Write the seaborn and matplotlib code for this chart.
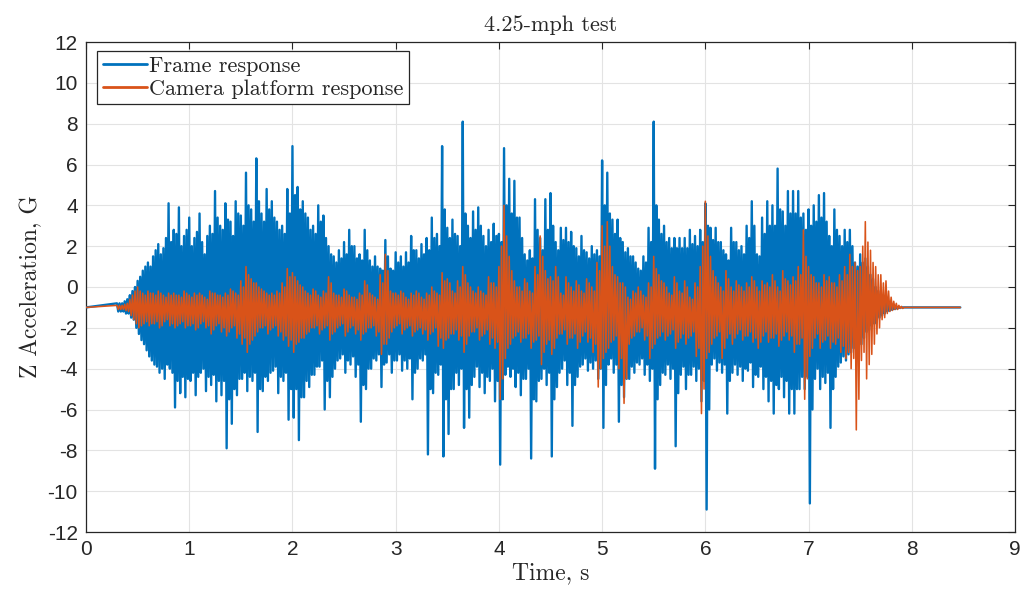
import numpy as np
import pandas as pd
import matplotlib
matplotlib.use("Agg")
import matplotlib.pyplot as plt
import seaborn as sns

# ---------------- data ----------------
rest_value = -1.0          # quiet level before/after the test, G
t_first, t_last = 0.0, 8.47
t_grid_start, t_grid_step = 0.30, 0.05   # sampling grid of read peaks

# main peaks / troughs at t_grid_start + k*step
frame_upper = [
    -0.8, -0.8, -0.6, -0.2, 0.3, 0.8, 1.2, 1.5, 2.1, 1.9,
    4.1, 2.8, 3.9, 2.5, 3.4, 2.4, 3.6, 1.6, 3.0, 4.7,
    3.0, 4.1, 3.2, 4.2, 3.5, 5.6, 3.8, 6.3, 3.6, 4.8,
    4.2, 3.2, 3.0, 4.8, 6.9, 4.9, 4.2, 3.4, 3.0, 4.0,
    3.5, 2.0, 1.5, 1.8, 2.2, 2.8, 2.0, 1.6, 2.8, 1.3,
    1.5, 0.9, 2.3, 0.9, 1.7, 1.5, 1.7, 2.5, 1.8, 2.1,
    2.4, 3.4, 2.6, 6.9, 2.9, 3.3, 2.5, 8.1, 3.0, 3.7,
    3.9, 2.5, 2.8, 3.1, 2.6, 6.8, 5.3, 5.2, 3.4, 1.6,
    1.8, 4.3, 2.4, 4.3, 4.6, 2.2, 2.9, 2.9, 2.7, 1.9,
    2.5, 1.7, 2.0, 1.8, 6.2, 5.6, 3.3, 3.3, 2.2, 1.9,
    1.5, 0.9, 1.5, 2.9, 8.1, 3.3, 3.0, 2.4, 2.4, 2.4,
    2.4, 2.8, 2.5, 2.8, 4.1, 2.9, 2.9, 2.2, 1.6, 2.9,
    2.2, 2.0, 3.0, 4.2, 1.6, 3.4, 4.2, 4.0, 5.8, 3.7,
    4.7, 4.7, 4.7, 3.6, 3.8, 4.0, 4.5, 4.6, 2.5, 3.8,
    2.5, 2.8, 2.8, 1.2, 1.6, 1.4, 0.6, 0.0, -0.4, -0.7,
    -0.9, -0.95, -1.0,
]
frame_lower = [
    -1.2, -1.2, -1.3, -1.6, -2.3, -2.8, -3.4, -3.8, -4.2, -4.5,
    -4.0, -5.9, -5.2, -5.4, -4.6, -5.3, -4.2, -5.1, -4.8, -5.6,
    -5.3, -7.9, -6.7, -5.3, -4.5, -5.1, -4.6, -7.1, -5.1, -4.6,
    -4.1, -5.2, -4.6, -6.5, -6.4, -7.5, -5.4, -4.9, -4.3, -3.9,
    -6.0, -5.4, -4.0, -3.5, -4.2, -3.8, -4.4, -6.6, -5.0, -4.0,
    -3.6, -4.9, -3.7, -4.2, -3.6, -4.1, -4.0, -5.5, -4.0, -3.6,
    -8.2, -5.2, -4.3, -8.3, -7.2, -5.0, -4.8, -6.9, -6.4, -4.4,
    -4.9, -5.2, -4.6, -5.6, -8.7, -4.3, -4.4, -4.9, -5.3, -4.5,
    -8.4, -5.6, -4.5, -4.8, -8.3, -4.9, -4.0, -4.8, -6.8, -4.4,
    -3.8, -4.1, -4.0, -4.5, -6.9, -3.8, -4.2, -6.6, -5.4, -4.5,
    -4.2, -3.8, -4.3, -4.6, -8.9, -4.8, -4.3, -4.5, -7.8, -4.3,
    -5.0, -4.3, -4.6, -5.6, -10.9, -3.8, -4.1, -4.2, -6.2, -4.2,
    -4.3, -4.6, -4.1, -4.9, -4.4, -5.0, -5.6, -6.2, -5.0, -5.4,
    -6.2, -6.2, -5.0, -5.0, -10.6, -4.5, -5.0, -4.7, -6.9, -4.4,
    -3.7, -3.6, -3.2, -3.0, -2.8, -2.2, -1.9, -1.6, -1.4, -1.2,
    -1.1, -1.05, -1.0,
]
# in-between (smaller) peaks / troughs at t_grid_start + (k + 1/2)*step
frame_upper_mid = [
    -0.8, -0.7, -0.4, 0.0,
    0.5, 1.0, 1.0, 1.8, 1.6, 2.4, 2.2, 2.6, 2.0, 2.8,
    2.0, 2.7, 2.2, 2.5, 2.6, 3.4, 2.8, 3.3, 2.5, 3.6,
    3.0, 4.0, 3.2, 4.2, 3.2, 3.8, 3.4, 2.8, 2.6, 3.6,
    4.5, 3.8, 3.6, 2.8, 2.6, 3.2, 2.4, 1.6, 1.2, 1.4,
    1.6, 2.0, 1.4, 1.3, 1.8, 1.0, 1.0, 0.8, 1.5, 0.8,
    1.2, 1.0, 1.2, 1.8, 1.4, 1.6, 1.8, 2.4, 2.0, 3.8,
    2.4, 2.6, 2.0, 3.6, 2.4, 2.8, 3.0, 2.0, 2.2, 2.5,
    2.2, 4.0, 3.6, 3.4, 2.4, 1.3, 1.4, 2.8, 1.8, 2.8,
    3.0, 1.8, 2.3, 2.2, 2.0, 1.5, 1.8, 1.4, 1.6, 1.5,
    4.0, 3.6, 2.6, 2.4, 1.7, 1.5, 1.2, 0.8, 1.2, 2.2,
    4.0, 2.6, 2.2, 1.9, 1.9, 1.9, 1.9, 2.1, 2.0, 2.2,
    3.0, 2.3, 2.2, 1.8, 1.3, 2.2, 1.8, 1.6, 2.4, 3.0,
    1.5, 2.6, 3.0, 3.0, 3.8, 3.0, 3.6, 3.6, 3.4, 2.8,
    3.0, 3.2, 3.4, 3.2, 2.0, 2.8, 2.0, 2.2, 2.0, 1.0,
    1.2, 1.0, 0.4, -0.2, -0.5, -0.8, -0.9, -1.0, -1.0,
]
frame_lower_mid = [
    -1.2, -1.3, -1.5, -2.0,
    -2.6, -3.1, -3.6, -3.9, -4.0, -3.8, -4.2, -4.6, -4.4, -4.5,
    -4.2, -4.4, -4.0, -4.4, -4.3, -4.6, -4.6, -5.5, -5.0, -4.5,
    -4.2, -4.4, -4.2, -5.0, -4.4, -4.2, -3.9, -4.4, -4.2, -5.0,
    -5.0, -5.4, -4.6, -4.3, -3.9, -3.6, -4.6, -4.4, -3.6, -3.3,
    -3.6, -3.4, -3.8, -4.8, -4.0, -3.5, -3.3, -3.8, -3.3, -3.6,
    -3.3, -3.6, -3.5, -4.2, -3.5, -3.3, -5.0, -4.2, -3.8, -5.5,
    -5.0, -4.2, -4.0, -5.0, -4.8, -3.9, -4.2, -4.4, -4.0, -4.6,
    -5.5, -3.9, -4.0, -4.2, -4.5, -4.0, -5.5, -4.6, -4.0, -4.2,
    -5.5, -4.2, -3.6, -4.2, -4.8, -3.9, -3.5, -3.7, -3.6, -4.0,
    -4.8, -3.5, -3.8, -4.8, -4.5, -3.9, -3.7, -3.5, -3.8, -4.0,
    -5.5, -4.2, -3.8, -4.0, -5.2, -3.9, -4.3, -3.9, -4.0, -4.6,
    -6.0, -3.5, -3.7, -3.8, -4.6, -3.8, -3.9, -4.0, -3.7, -4.3,
    -3.9, -4.4, -4.6, -4.8, -4.4, -4.6, -5.0, -5.0, -4.4, -4.4,
    -6.0, -4.0, -4.4, -4.2, -5.0, -3.9, -3.4, -3.3, -3.0, -2.9,
    -2.5, -2.1, -1.8, -1.5, -1.3, -1.15, -1.08, -1.02, -1.0,
]
camera_upper = [
    -0.9, -0.9, -0.8, -0.4, 0.0, -0.3, -0.2, -0.3, -0.2, -0.4,
    -0.3, -0.3, -0.4, -0.2, -0.4, -0.3, -0.3, -0.5, -0.2, -0.3,
    -0.4, -0.3, -0.1, -0.3, 0.3, 1.0, 0.4, 0.2, -0.1, -0.3,
    -0.3, -0.2, 0.2, 0.9, 0.7, 0.3, 0.0, -0.3, -0.1, -0.4,
    -0.2, 0.5, -0.3, -0.4, -0.1, -0.4, -0.5, -0.3, 0.3, -0.3,
    -0.5, 0.6, 1.6, -0.2, -0.3, -0.2, -0.5, -0.3, -0.2, -0.5,
    -0.3, 0.0, -0.3, 0.7, 0.4, -0.2, 0.3, 1.0, 0.2, -0.2,
    0.0, -0.3, 0.5, 0.2, 1.0, 4.0, 1.5, 0.3, 0.0, 0.4,
    -0.2, 1.0, 2.5, 0.8, 0.5, 1.0, -0.3, 0.5, 0.0, 0.3,
    -0.2, 0.4, 0.0, 1.2, 3.0, 3.2, 1.0, 0.5, 0.2, -0.5,
    -0.2, 0.0, -0.4, 0.2, 1.5, 0.6, 0.2, -0.3, 0.5, -0.2,
    0.3, -0.5, 0.2, 1.0, 4.2, 1.5, 0.5, 0.0, 0.8, 0.0,
    0.3, 0.0, 0.2, 0.5, 0.0, 0.3, 0.2, 0.6, 0.0, 0.8,
    0.3, 0.5, 1.0, 2.8, 1.0, 0.5, 0.2, 0.6, 0.5, 0.2,
    0.6, 1.0, 1.6, 1.2, 1.0, 3.2, 1.8, 1.0, 0.6, 0.3,
    -0.5, -0.8, -0.95,
]
camera_lower = [
    -1.1, -1.1, -1.2, -1.6, -2.0, -1.8, -1.9, -1.8, -2.0, -1.7,
    -1.9, -2.0, -1.8, -2.0, -1.9, -2.1, -1.8, -2.0, -2.3, -1.9,
    -2.2, -2.4, -2.0, -2.5, -2.8, -3.2, -2.6, -2.2, -2.0, -2.3,
    -2.0, -2.4, -2.6, -2.9, -3.2, -2.7, -2.5, -2.2, -2.0, -2.3,
    -2.0, -2.6, -2.2, -1.9, -2.4, -2.0, -2.3, -2.6, -2.2, -2.0,
    -2.4, -3.3, -2.8, -2.2, -1.9, -2.3, -2.0, -2.4, -2.1, -2.3,
    -2.6, -2.2, -2.9, -3.0, -2.5, -2.3, -2.6, -3.2, -2.4, -2.2,
    -2.6, -2.3, -2.8, -3.0, -5.5, -3.5, -2.8, -2.4, -2.7, -2.5,
    -3.0, -2.6, -3.8, -2.8, -3.3, -2.5, -2.3, -2.8, -2.5, -3.0,
    -2.4, -2.7, -3.2, -4.9, -3.5, -3.0, -2.6, -4.0, -5.7, -2.8,
    -2.4, -2.2, -2.6, -3.5, -2.8, -2.4, -2.6, -2.3, -3.0, -2.5,
    -2.8, -2.4, -3.4, -6.2, -3.5, -2.8, -2.4, -3.5, -2.5, -2.8,
    -2.3, -2.6, -2.4, -2.7, -3.0, -2.4, -2.7, -2.5, -2.9, -2.4,
    -2.6, -3.2, -2.8, -5.5, -3.4, -2.5, -3.0, -2.6, -3.0, -2.8,
    -3.2, -3.5, -4.0, -7.0, -3.6, -4.5, -3.3, -2.3, -1.6, -1.3,
    -1.15, -1.1, -1.05,
]
camera_upper_mid = [
    -0.9, -0.85, -0.6, -0.2,
    -0.2, -0.4, -0.3, -0.4, -0.3, -0.5, -0.4, -0.4, -0.5, -0.3,
    -0.5, -0.4, -0.4, -0.6, -0.3, -0.4, -0.5, -0.4, -0.2, -0.4,
    0.0, 0.6, 0.2, 0.0, -0.2, -0.4, -0.4, -0.3, 0.0, 0.5,
    0.5, 0.1, -0.2, -0.4, -0.2, -0.5, -0.3, 0.2, -0.4, -0.5,
    -0.2, -0.5, -0.6, -0.4, 0.1, -0.4, -0.6, 0.2, 0.8, -0.3,
    -0.4, -0.3, -0.6, -0.4, -0.3, -0.6, -0.4, -0.2, -0.4, 0.3,
    0.2, -0.3, 0.0, 0.6, 0.0, -0.3, -0.2, -0.4, 0.2, 0.0,
    2.0, 2.5, 0.8, 0.0, -0.2, 0.2, -0.3, 0.6, 1.5, 0.4,
    0.3, 0.5, -0.4, 0.2, -0.2, 0.1, -0.3, 0.2, -0.2, 0.8,
    2.0, 2.0, 0.6, 0.2, 0.0, -0.6, -0.3, -0.2, -0.5, 0.0,
    0.9, 0.3, 0.0, -0.4, 0.2, -0.3, 0.0, -0.6, 0.0, 2.0,
    2.5, 0.8, 0.2, -0.2, 0.4, -0.2, 0.1, -0.2, 0.0, 0.3,
    -0.2, 0.1, 0.0, 0.3, -0.2, 0.4, 0.1, 0.3, 0.6, 1.5,
    0.6, 0.2, 0.0, 0.3, 0.2, 0.0, 0.3, 0.6, 1.0, 0.8,
    2.0, 2.2, 1.2, 0.6, 0.2, -0.2, -0.7, -0.9, -1.0,
]
camera_lower_mid = [
    -1.1, -1.15, -1.4, -1.8,
    -1.9, -1.7, -1.8, -1.7, -1.9, -1.6, -1.8, -1.9, -1.7, -1.9,
    -1.8, -2.0, -1.7, -1.9, -2.1, -1.8, -2.0, -2.2, -1.9, -2.3,
    -2.5, -2.8, -2.4, -2.0, -1.9, -2.1, -1.9, -2.2, -2.4, -2.6,
    -2.8, -2.5, -2.3, -2.0, -1.9, -2.1, -1.9, -2.3, -2.0, -1.8,
    -2.2, -1.9, -2.1, -2.3, -2.0, -1.9, -2.2, -2.8, -2.5, -2.0,
    -1.8, -2.1, -1.9, -2.2, -2.0, -2.1, -2.3, -2.0, -2.5, -2.6,
    -2.3, -2.1, -2.4, -2.8, -2.2, -2.0, -2.4, -2.1, -2.5, -2.7,
    -4.5, -3.0, -2.5, -2.2, -2.5, -2.3, -2.7, -2.4, -3.2, -2.6,
    -3.0, -2.3, -2.1, -2.5, -2.3, -2.7, -2.2, -2.5, -2.8, -4.0,
    -3.2, -2.7, -2.4, -3.5, -4.5, -2.5, -2.2, -2.0, -2.4, -3.0,
    -2.5, -2.2, -2.4, -2.1, -2.7, -2.3, -2.5, -2.2, -3.0, -5.0,
    -3.2, -2.5, -2.2, -3.0, -2.3, -2.5, -2.1, -2.4, -2.2, -2.5,
    -2.7, -2.2, -2.5, -2.3, -2.6, -2.2, -2.4, -2.8, -2.5, -4.5,
    -3.0, -2.3, -2.7, -2.4, -2.7, -2.5, -2.9, -3.2, -3.5, -5.5,
    -3.2, -3.8, -2.8, -2.0, -1.5, -1.2, -1.1, -1.05, -1.0,
]

# dense core band of each trace (where the oscillation fills solidly)
core_t = [0.45, 0.50, 0.75, 1.00, 1.25, 1.50, 1.75, 2.00, 2.25, 2.50,
          2.75, 3.00, 3.25, 3.50, 3.75, 4.00, 4.25, 4.50, 4.75, 5.00,
          5.25, 5.50, 5.75, 6.00, 6.25, 6.50, 6.75, 7.00, 7.25, 7.50,
          7.75, 7.90]
frame_core_hi = [-0.9, -0.6, 0.5, 1.1, 1.3, 1.5, 1.6, 1.9, 1.1, 0.3,
                 0.0, 0.0, 0.3, 0.9, 1.1, 1.1, 0.3, 0.9, 0.6, 0.4,
                 0.2, 0.6, 0.6, 0.6, 0.4, 1.1, 1.9, 1.5, 0.6, -0.3,
                 -0.8, -1.0]
frame_core_lo = [-1.1, -1.5, -2.6, -3.1, -3.1, -3.1, -3.1, -3.5, -3.1, -2.4,
                 -2.2, -2.2, -2.4, -2.7, -2.7, -2.9, -2.7, -2.7, -2.4, -2.4,
                 -2.2, -2.4, -2.4, -2.2, -2.5, -2.9, -3.1, -3.1, -2.2, -1.6,
                 -1.2, -1.0]

series_names = ["Frame response", "Camera platform response"]
colors = ["#0072BD", "#D95319"]
line_widths = [1.7, 1.15]
title = "4.25-mph test"
xlabel = "Time, s"
ylabel = "Z Acceleration, G"
xticks = list(range(0, 10))
yticks = list(range(-12, 13, 2))


def build_trace(upper, lower, upper_mid, lower_mid):
    """Put the read peaks and troughs in time order: U, L, U_mid, L_mid, ..."""
    n = len(upper)
    t0 = t_grid_start + t_grid_step * np.arange(n)
    t = np.stack([t0, t0 + t_grid_step / 4, t0 + t_grid_step / 2,
                  t0 + 3 * t_grid_step / 4], axis=1).ravel()
    y = np.stack([upper, lower, upper_mid, lower_mid], axis=1).ravel()
    t = np.concatenate([[t_first], t, [t_last]])
    y = np.concatenate([[rest_value], y, [rest_value]])
    return t, y


traces = {}
for name, parts in [(series_names[0], (frame_upper, frame_lower, frame_upper_mid, frame_lower_mid)),
                    (series_names[1], (camera_upper, camera_lower, camera_upper_mid, camera_lower_mid))]:
    t, y = build_trace(*parts)
    traces[name] = pd.DataFrame({"t": t, "acc": y, "series": name})

# ---------------- plotting ----------------
sns.set_theme(style="white")
plt.rcParams["axes.unicode_minus"] = False
serif = ["cmr10", "DejaVu Serif"]
sans = ["Liberation Sans", "DejaVu Sans"]

fig = plt.figure(figsize=(10.32, 6.01), dpi=100)
ax = fig.add_axes([86 / 1032, 1 - 532 / 601, (1015 - 86) / 1032, (532 - 42) / 601])

ax.fill_between(core_t, frame_core_lo, frame_core_hi, color=colors[0],
                linewidth=0, zorder=2)
for name, color, lw in zip(series_names, colors, line_widths):
    sns.lineplot(data=traces[name], x="t", y="acc", color=color, sort=False,
                 estimator=None, linewidth=lw, ax=ax, legend=False, zorder=3)

ax.set_xlim(0, 9)
ax.set_ylim(-12, 12)
ax.set_xticks(xticks)
ax.set_yticks(yticks)
ax.set_xticklabels([str(v) for v in xticks], fontfamily=sans, fontsize=15, color="#262626")
ax.set_yticklabels([str(v) for v in yticks], fontfamily=sans, fontsize=15, color="#262626")
ax.tick_params(direction="in", length=5, width=0.8, top=True, right=True,
               colors="#262626", pad=6)
ax.grid(True, color="#e3e3e3", linewidth=0.8)
ax.set_axisbelow(True)
for sp in ax.spines.values():
    sp.set_color("#262626")
    sp.set_linewidth(0.9)

ax.set_title(title, fontfamily=serif, fontsize=16, pad=8)
ax.set_xlabel(xlabel, fontfamily=serif, fontsize=17, labelpad=2)
ax.set_ylabel(ylabel, fontfamily=serif, fontsize=17, labelpad=4)

handles = [plt.Line2D([], [], color=c, linewidth=2.0) for c in colors]
leg = ax.legend(handles, series_names, loc="upper left",
                bbox_to_anchor=(0.012, 0.982), prop={"family": serif, "size": 16},
                frameon=True, fancybox=False, edgecolor="#262626", framealpha=1,
                handlelength=2.0, handletextpad=0.1, borderpad=0.25,
                labelspacing=0.15, borderaxespad=0)
leg.get_frame().set_linewidth(0.9)
leg.set_zorder(10)

fig.savefig("out.png", dpi=100)
